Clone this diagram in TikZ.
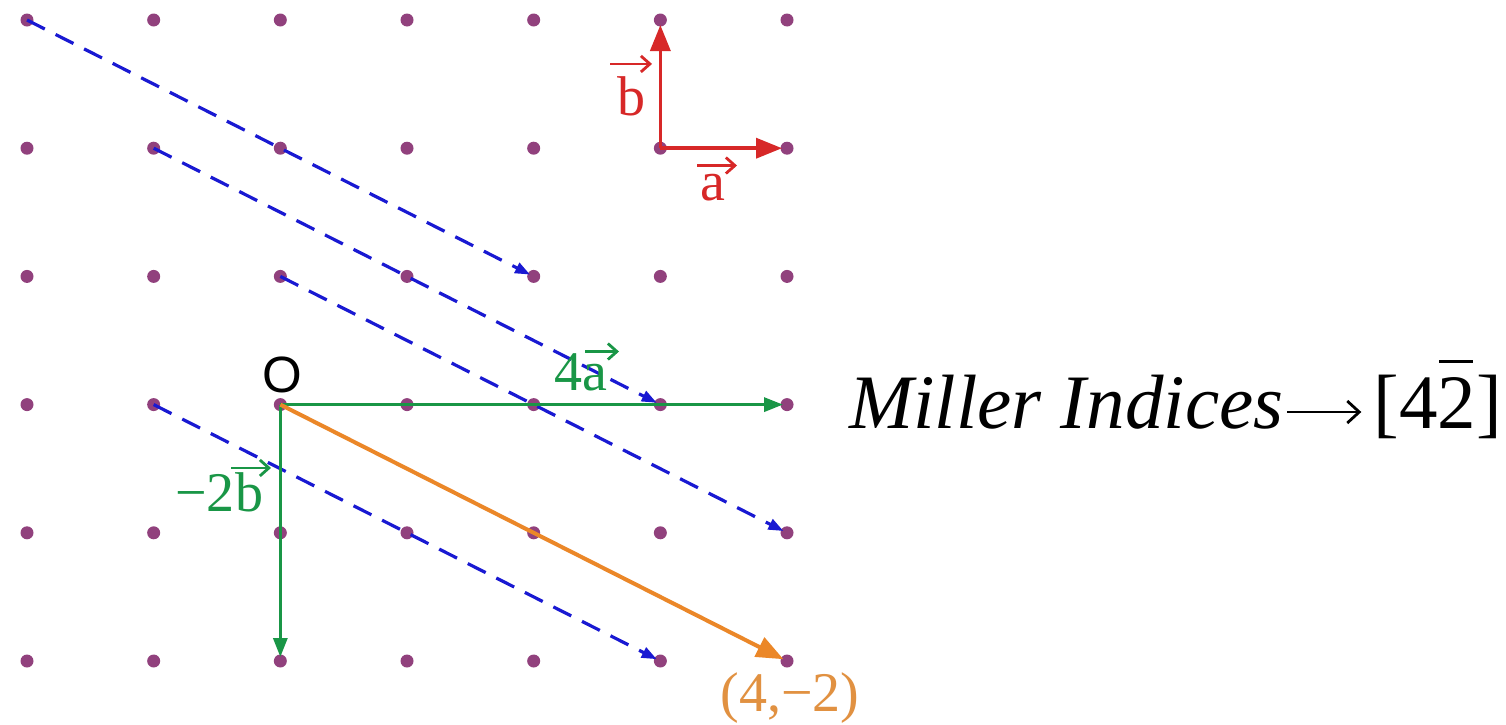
\documentclass[tikz,border=0pt]{standalone}
\usepackage{fontspec}
\setmainfont{Liberation Serif}
\newfontfamily\labsans{Liberation Sans}
\usetikzlibrary{arrows.meta}
\definecolor{dotc}{RGB}{145,65,125}
\definecolor{bluec}{RGB}{25,25,210}
\definecolor{greenc}{RGB}{25,150,70}
\definecolor{orangec}{RGB}{235,135,40}
\definecolor{orangetxt}{RGB}{225,145,65}
\definecolor{redc}{RGB}{215,40,40}
\begin{document}
\begin{tikzpicture}[x=1pt,y=-1pt,
  dot/.style={circle,fill=dotc,inner sep=0pt,minimum size=13pt},
  bluearr/.style={draw=bluec,line width=3.2pt,dash pattern=on 20pt off 12pt,
    -{Triangle[length=15pt,width=11pt]},shorten >=4pt},
  greenarr/.style={draw=greenc,line width=3.2pt,-{Triangle[length=19pt,width=14pt]},shorten >=4pt},
  orangearr/.style={draw=orangec,line width=4pt,-{Triangle[length=27pt,width=21pt]},shorten >=4pt},
  redarr/.style={draw=redc,line width=3.5pt,-{Triangle[length=26pt,width=20pt]},shorten >=5pt},
  lab/.style={inner sep=0pt,anchor=base,font=\fontsize{56}{60}\selectfont},
  vecarr/.style={line width=2.8pt,-{Straight Barb[length=9pt,width=16pt,line width=2.8pt]}},
  bigarr/.style={line width=2.8pt,-{Straight Barb[length=12pt,width=22pt,line width=2.8pt]}}]
\useasboundingbox (0,0) rectangle (1506,724);
\fill[white] (0,0) rectangle (1506,724);
% lattice
\foreach \i in {0,...,6}{
  \foreach \j in {0,...,5}{
    \pgfmathsetmacro{\px}{27+126.67*\i}
    \pgfmathsetmacro{\py}{20+128.2*\j}
    \node[dot] (p-\i-\j) at (\px,\py) {};
  }
}
% blue dashed arrows
\draw[bluearr] (p-0-0.center) -- (p-4-2.center);
\draw[bluearr] (p-1-1.center) -- (p-5-3.center);
\draw[bluearr] (p-2-2.center) -- (p-6-4.center);
\draw[bluearr] (p-1-3.center) -- (p-5-5.center);
% green vectors
\draw[greenarr] (p-2-3.center) -- (p-6-3.center);
\draw[greenarr] (p-2-3.center) -- (p-2-5.center);
% orange vector
\draw[orangearr] (p-2-3.center) -- (p-6-5.center);
% red basis
\draw[redarr] (p-5-1.center) -- (p-5-0.center);
\draw[redarr] (p-5-1.center) -- (p-6-1.center);
% red labels
\node[lab,text=redc] (lb) at (631,115) {b};
\draw[vecarr,redc] ([xshift=-21pt,yshift=12pt]lb.north) -- ([xshift=21pt,yshift=12pt]lb.north);
\node[lab,text=redc] (la) at (713,200) {a};
\draw[vecarr,redc] ([xshift=-16pt,yshift=8pt]la.north) -- ([xshift=24pt,yshift=8pt]la.north);
% green labels
\node[lab,text=greenc] (l4a) at (595,390) {a};
\node[lab,text=greenc,anchor=base east] (l4) at (l4a.base west) {4};
\draw[vecarr,greenc] ([xshift=-10pt,yshift=12pt]l4a.north) -- ([xshift=24pt,yshift=12pt]l4a.north);
\node[lab,text=greenc] (l2b) at (249,511) {b};
\node[lab,text=greenc,anchor=base east] (l2) at (l2b.base west) {\char"2212 2};
\draw[vecarr,greenc] ([xshift=-18pt,yshift=4pt]l2b.north) -- ([xshift=22pt,yshift=4pt]l2b.north);
% origin
\node[inner sep=0pt,anchor=base,font=\labsans\fontsize{51}{54}\selectfont] (lo) at (282,392) {O};
% orange label
\node[lab,text=orangetxt] (lp) at (790,711) {(4,\char"2212 2)};
% Miller indices
\node[inner sep=0pt,anchor=base west,font=\fontsize{77}{84}\selectfont] (miller) at (849,428)
  {\textit{Miller Indices}};
\node[inner sep=0pt,anchor=base east,font=\fontsize{77}{84}\selectfont] (brk) at (1502,428)
  {[4\makebox[0pt][l]{\hspace{0.02em}\raisebox{0.84em}{\rule{0.44em}{0.04em}}}2]};
\draw[bigarr] ([xshift=4pt,yshift=16pt]miller.base east) -- ([xshift=-12pt,yshift=16pt]brk.base west);
\end{tikzpicture}
\end{document}
